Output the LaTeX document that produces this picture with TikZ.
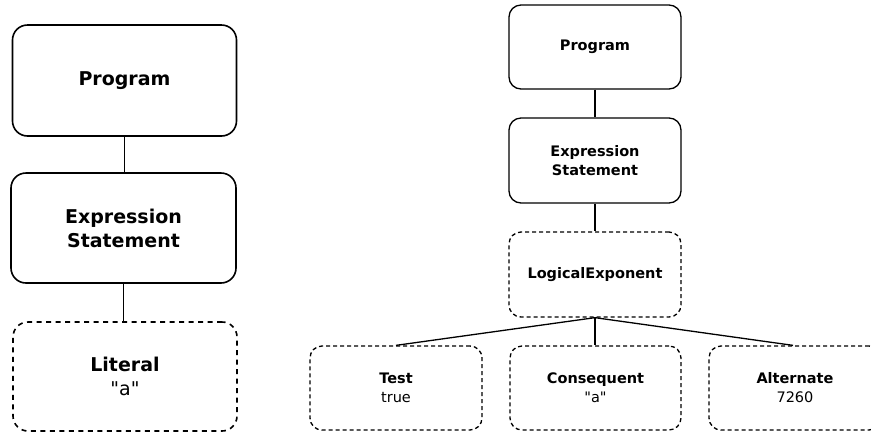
\documentclass[tikz,border=0pt]{standalone}
\usepackage{fontspec}
\setmainfont{DejaVu Sans}
\newfontfamily\plainfont{DejaVu Sans}[Ligatures=ResetAll]
\begin{document}
\begin{tikzpicture}[x=1pt,y=-1pt,
  bigbox/.style={draw=black, line width=1.6pt, rounded corners=15pt, align=center, inner sep=0pt,
    font=\plainfont\fontsize{19}{24}\selectfont},
  bigdash/.style={bigbox, dash pattern=on 5pt off 4.5pt},
  smallbox/.style={draw=black, line width=1.3pt, rounded corners=12pt, align=center, inner sep=0pt,
    minimum width=172pt, minimum height=84pt, font=\plainfont\fontsize{14.5}{19}\selectfont},
  smalldash/.style={smallbox, dash pattern=on 4pt off 3pt},
  bigedge/.style={draw=black, line width=1.8pt},
  smalledge/.style={draw=black, line width=1.3pt}]
\useasboundingbox (0,0) rectangle (871,432);
% left tree
\node[bigbox, minimum width=224pt, minimum height=111pt] (LP) at (124.5,80.5) {\textbf{Program}};
\node[bigbox, minimum width=225pt, minimum height=110pt] (LE) at (123.5,228) {\textbf{Expression}\\\textbf{Statement}};
\node[bigdash, minimum width=224pt, minimum height=109pt] (LL) at (125,376.5) {\textbf{Literal}\\"a"};
\draw[bigedge] (LP.south) -- (LP.south |- LE.north);
\draw[bigedge] (LE.south) -- (LE.south |- LL.north);
% right tree
\node[smallbox] (RP) at (595,47) {\textbf{Program}};
\node[smallbox, minimum height=85pt] (RE) at (595,160.5) {\textbf{Expression}\\\textbf{Statement}};
\node[smalldash, minimum height=85pt] (RL) at (595,274.5) {\textbf{LogicalExponent}};
\node[smalldash] (T) at (396,388) {\textbf{Test}\\true};
\node[smalldash, minimum width=171pt] (C) at (595.5,388) {\textbf{Consequent}\\"a"};
\node[smalldash] (A) at (795,388) {\textbf{Alternate}\\7260};
\draw[smalledge] (RP) -- (RE);
\draw[smalledge] (RE) -- (RL);
\draw[smalledge] (RL.south) -- (T.north);
\draw[smalledge] (RL.south) -- (RL.south |- C.north);
\draw[smalledge] (RL.south) -- ([xshift=-2pt]A.north);
\end{tikzpicture}
\end{document}
